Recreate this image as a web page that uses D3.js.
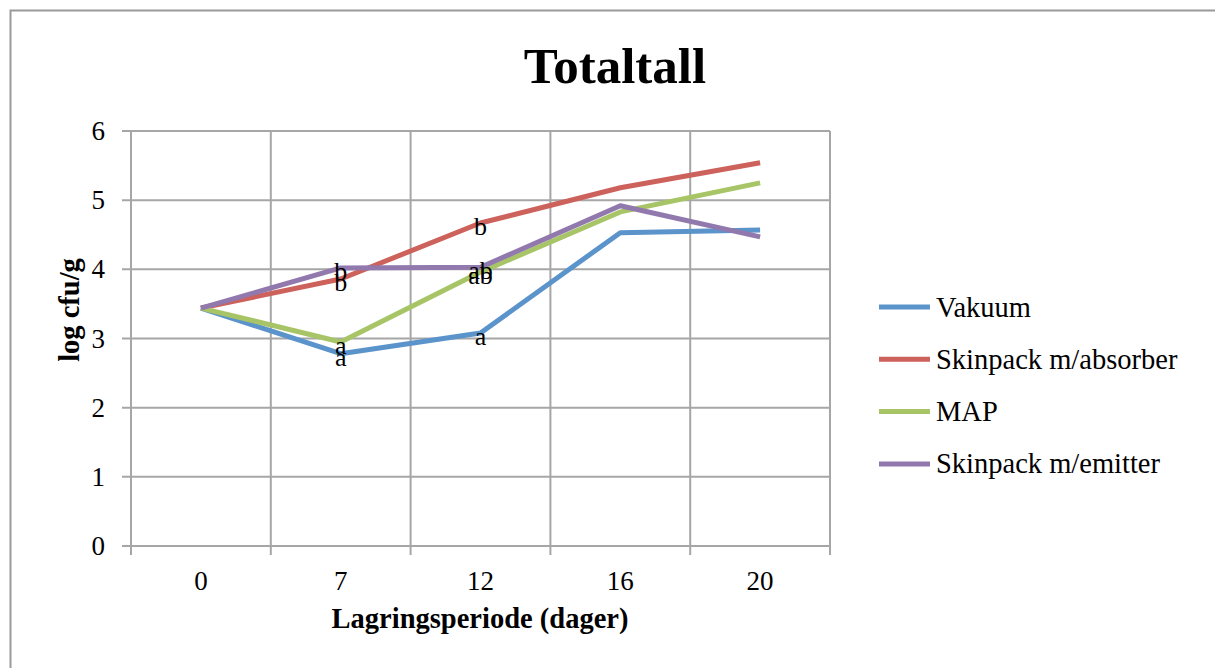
<!DOCTYPE html>
<html>
<head>
<meta charset="utf-8">
<script src="https://cdn.jsdelivr.net/npm/d3@7/dist/d3.min.js"></script>
<style>
  html, body { margin: 0; padding: 0; background: #fff; }
  svg { display: block; }
  text { font-family: "Liberation Serif", "Times New Roman", serif; fill: #000; }
</style>
</head>
<body>
<svg id="chart" width="1215" height="668"></svg>
<script>
// Storage days (categories)
const days = ["0", "7", "12", "16", "20"];

// Series names and colours
const seriesNames = ["Vakuum", "Skinpack m/absorber", "MAP", "Skinpack m/emitter"];
const seriesColors = ["#5b93cb", "#cd615b", "#a7c566", "#9179ae"];

// log cfu/g per series
const vakuum    = [3.44, 2.78, 3.08, 4.53, 4.57];
const absorber  = [3.44, 3.86, 4.67, 5.18, 5.54];
const map       = [3.44, 2.95, 3.96, 4.83, 5.25];
const emitter   = [3.44, 4.02, 4.03, 4.92, 4.47];

// Significance letters per series
const vakuumLetters   = ["", "a", "a", "", ""];
const absorberLetters = ["", "b", "b", "", ""];
const mapLetters      = ["", "a", "ab", "", ""];
const emitterLetters  = ["", "b", "ab", "", ""];

const yTicks = [0, 1, 2, 3, 4, 5, 6];

const series = [vakuum, absorber, map, emitter].map((vals, i) => ({
  name: seriesNames[i],
  color: seriesColors[i],
  values: vals,
  letters: [vakuumLetters, absorberLetters, mapLetters, emitterLetters][i]
}));

const svg = d3.select("#chart");
const grid = "#a6a6a6";

// Chart border
svg.append("rect")
  .attr("x", 10.5).attr("y", 10.5)
  .attr("width", 1250).attr("height", 700)
  .attr("fill", "#fff").attr("stroke", "#9a9a9a").attr("stroke-width", 2);

const plot = { left: 131, right: 830, top: 131, bottom: 546 };

const x = d3.scaleBand().domain(days).range([plot.left, plot.right]).padding(0);
const y = d3.scaleLinear().domain([0, 6]).range([plot.bottom, plot.top]);

// Horizontal gridlines
svg.append("g").selectAll("line").data(yTicks).join("line")
  .attr("x1", plot.left - 9).attr("x2", plot.right)
  .attr("y1", d => y(d)).attr("y2", d => y(d))
  .attr("stroke", grid).attr("stroke-width", 2);

// Vertical gridlines at category boundaries
const bounds = days.map(d => x(d)).concat([x(days[days.length - 1]) + x.bandwidth()]);
svg.append("g").selectAll("line").data(bounds).join("line")
  .attr("x1", d => d).attr("x2", d => d)
  .attr("y1", plot.top).attr("y2", plot.bottom + 9)
  .attr("stroke", grid).attr("stroke-width", 2);

// Y tick labels
svg.append("g").selectAll("text").data(yTicks).join("text")
  .attr("x", 105).attr("y", d => y(d))
  .attr("text-anchor", "end").attr("dominant-baseline", "central")
  .attr("font-size", 27)
  .text(d => d);

// X tick labels
svg.append("g").selectAll("text").data(days).join("text")
  .attr("x", d => x(d) + x.bandwidth() / 2).attr("y", 590)
  .attr("text-anchor", "middle")
  .attr("font-size", 27)
  .text(d => d);

// Lines
const line = d3.line()
  .x((d, i) => x(days[i]) + x.bandwidth() / 2)
  .y(d => y(d));

svg.append("g").selectAll("path").data(series).join("path")
  .attr("d", d => line(d.values))
  .attr("fill", "none")
  .attr("stroke", d => d.color)
  .attr("stroke-width", 5)
  .attr("stroke-linejoin", "round");

// Significance letters
series.forEach(s => {
  svg.append("g").selectAll("text")
    .data(s.values.map((v, i) => ({ v, i, t: s.letters[i] })).filter(d => d.t))
    .join("text")
    .attr("x", d => x(days[d.i]) + x.bandwidth() / 2)
    .attr("y", d => y(d.v) + 12)
    .attr("text-anchor", "middle")
    .attr("font-size", 26)
    .text(d => d.t);
});

// Title
svg.append("text")
  .attr("x", 615).attr("y", 83)
  .attr("text-anchor", "middle")
  .attr("font-size", 51).attr("font-weight", "bold")
  .text("Totaltall");

// Axis titles
svg.append("text")
  .attr("x", 480).attr("y", 628)
  .attr("text-anchor", "middle")
  .attr("font-size", 28.5).attr("font-weight", "bold")
  .text("Lagringsperiode (dager)");

svg.append("text")
  .attr("transform", "translate(79,310) rotate(-90)")
  .attr("text-anchor", "middle")
  .attr("font-size", 28.5).attr("font-weight", "bold")
  .text("log cfu/g");

// Legend
const legend = svg.append("g").selectAll("g").data(series).join("g")
  .attr("transform", (d, i) => `translate(879,${307 + i * 52.3})`);
legend.append("line")
  .attr("x1", 0).attr("x2", 51)
  .attr("stroke", d => d.color).attr("stroke-width", 5);
legend.append("text")
  .attr("x", 57).attr("y", 0)
  .attr("dominant-baseline", "central")
  .attr("font-size", 28.5)
  .text(d => d.name);
</script>
</body>
</html>
